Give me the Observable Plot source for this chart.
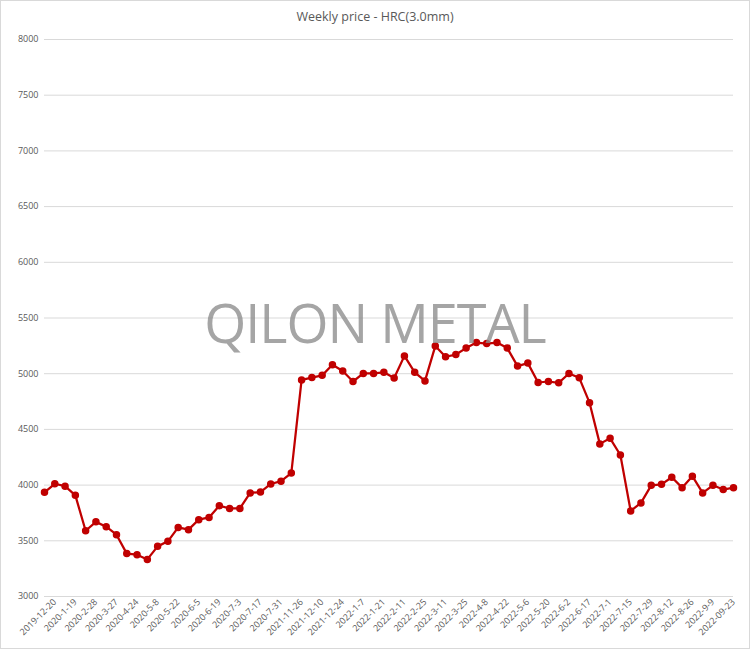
<!DOCTYPE html>
<html>
<head>
<meta charset="utf-8">
<script src="https://cdn.jsdelivr.net/npm/d3@7"></script>
<script src="https://cdn.jsdelivr.net/npm/@observablehq/plot@0.6"></script>
<style>
  html, body { margin: 0; padding: 0; background: #fff; }
  #wrap { position: relative; width: 750px; height: 649px; overflow: hidden; font-family: "Open Sans", sans-serif; }
  #title { height: 30px; line-height: 34px; text-align: center; font-size: 12.5px; color: #595959; }
  #border { position: absolute; left: 0; top: 0; width: 750px; height: 649px; box-sizing: border-box; border: 1px solid #d9d9d9; pointer-events: none; }
  #wm { position: absolute; left: 0; width: 750px; top: 285px; text-align: center; font-size: 54px; color: #8f8f8f; opacity: 0.8; letter-spacing: -1px; pointer-events: none; white-space: nowrap; }
  #chart svg { display: block; }
</style>
</head>
<body>
<div id="wrap">
  <div id="title">Weekly price - HRC(3.0mm)</div>
  <div id="chart"></div>
  <div id="wm">QILON METAL</div>
  <div id="border"></div>
</div>
<script>
const dates = [
  "2019-12-13","2019-12-20","2020-1-10","2020-1-19","2020-2-21","2020-2-28","2020-3-13","2020-3-27",
  "2020-4-17","2020-4-24","2020-5-1","2020-5-8","2020-5-15","2020-5-22","2020-5-29","2020-6-5",
  "2020-6-12","2020-6-19","2020-6-26","2020-7-3","2020-7-10","2020-7-17","2020-7-24","2020-7-31",
  "2020-8-7","2021-11-26","2021-12-3","2021-12-10","2021-12-17","2021-12-24","2021-12-31","2022-1-7",
  "2022-1-14","2022-1-21","2022-1-28","2022-2-11","2022-2-18","2022-2-25","2022-3-4","2022-3-11",
  "2022-3-18","2022-3-25","2022-4-1","2022-4-8","2022-4-15","2022-4-22","2022-4-29","2022-5-6",
  "2022-5-13","2022-5-20","2022-5-27","2022-6-2","2022-6-10","2022-6-17","2022-6-24","2022-7-1",
  "2022-7-8","2022-7-15","2022-7-22","2022-7-29","2022-8-5","2022-8-12","2022-8-19","2022-8-26",
  "2022-9-2","2022-9-9","2022-9-16","2022-09-23"
];
const prices = [
  3935, 4012, 3990, 3908, 3590, 3670, 3627, 3555,
  3385, 3375, 3333, 3450, 3495, 3620, 3600, 3690,
  3710, 3815, 3790, 3790, 3930, 3937, 4010, 4035,
  4108, 4944, 4965, 4985, 5080, 5024, 4930, 5002,
  5002, 5012, 4962, 5160, 5012, 4935, 5248, 5152,
  5172, 5230, 5280, 5271, 5280, 5230, 5068, 5095,
  4921, 4930, 4918, 5002, 4963, 4740, 4370, 4420,
  4270, 3768, 3840, 3998, 4007, 4070, 3977, 4080,
  3930, 3998, 3960, 3977
];
const xTickLabels = [
  "2019-12-20","2020-1-19","2020-2-28","2020-3-27","2020-4-24","2020-5-8","2020-5-22","2020-6-5",
  "2020-6-19","2020-7-3","2020-7-17","2020-7-31","2021-11-26","2021-12-10","2021-12-24","2022-1-7",
  "2022-1-21","2022-2-11","2022-2-25","2022-3-11","2022-3-25","2022-4-8","2022-4-22","2022-5-6",
  "2022-5-20","2022-6-2","2022-6-17","2022-7-1","2022-7-15","2022-7-29","2022-8-12","2022-8-26",
  "2022-9-9","2022-09-23"
];
const yTicks = [3000, 3500, 4000, 4500, 5000, 5500, 6000, 6500, 7000, 7500, 8000];

const rows = dates.map((d, i) => ({date: d, price: prices[i]}));
const red = "#c00000";

const chart = Plot.plot({
  width: 750,
  height: 619,
  marginLeft: 44,
  marginRight: 17,
  marginTop: 9,
  marginBottom: 53,
  style: {fontFamily: "Open Sans, sans-serif", color: "#595959", background: "transparent"},
  x: {type: "point", domain: dates, padding: 0, round: false},
  y: {domain: [3000, 8000]},
  marks: [
    Plot.gridY(yTicks, {stroke: "#d9d9d9", strokeOpacity: 1, strokeWidth: 1}),
    Plot.axisY(yTicks, {tickSize: 0, tickPadding: 6, fontSize: 9, label: null, tickFormat: d => String(d)}),
    Plot.axisX(xTickLabels, {tickSize: 0, tickRotate: -45, tickPadding: 4, fontSize: 9, label: null}),
    Plot.lineY(rows, {x: "date", y: "price", stroke: red, strokeWidth: 2.25}),
    Plot.dot(rows, {x: "date", y: "price", fill: red, stroke: red, r: 3})
  ]
});
document.getElementById("chart").appendChild(chart);
</script>
</body>
</html>
